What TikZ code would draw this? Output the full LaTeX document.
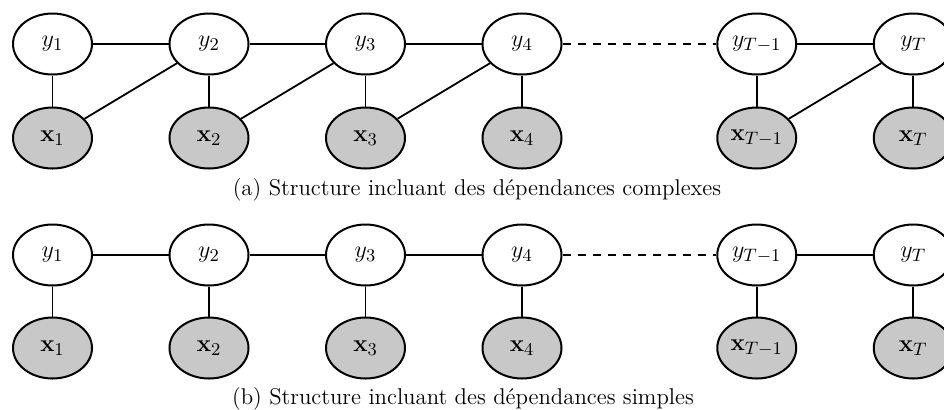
\documentclass[tikz,border=0pt]{standalone}
\usepackage{amsmath}
\usetikzlibrary{shapes.geometric}
\definecolor{obsGray}{RGB}{200,200,200}
\begin{document}
\begin{tikzpicture}[x=0.5pt,y=-0.5pt]
        \tikzstyle{hiddenNode}=[draw,ellipse,line width=1pt,minimum width=39.5pt,minimum height=30.5pt,inner sep=0pt,font=\fontsize{12.5}{15}\selectfont]
        \tikzstyle{observedNode}=[hiddenNode,fill=obsGray]
        \tikzstyle{link}=[line width=0.9pt]
        \tikzstyle{caption}=[font=\fontsize{11.4}{13}\selectfont]
    \useasboundingbox (0,0) rectangle (944,409);
    \clip (0,0) rectangle (944,409);

    % (a) complex dependencies
    \node[hiddenNode] (ya1) at (52.5, 44) {$y_1$};
    \node[hiddenNode] (ya2) at (209, 44) {$y_2$};
    \node[hiddenNode] (ya3) at (365.5, 44) {$y_3$};
    \node[hiddenNode] (ya4) at (522, 44) {$y_4$};
    \node[hiddenNode] (yaT1) at (756.75, 44) {$y_{T-1}$};
    \node[hiddenNode] (yaT) at (913.25, 44) {$y_T$};

    \node[observedNode] (xa1) at (52.5, 138) {$\mathbf{x}_1$};
    \node[observedNode] (xa2) at (209, 138) {$\mathbf{x}_2$};
    \node[observedNode] (xa3) at (365.5, 138) {$\mathbf{x}_3$};
    \node[observedNode] (xa4) at (522, 138) {$\mathbf{x}_4$};
    \node[observedNode] (xaT1) at (756.75, 138) {$\mathbf{x}_{T-1}$};
    \node[observedNode] (xaT) at (913.25, 138) {$\mathbf{x}_T$};

    \draw[link] (ya1) -- (ya2);
    \draw[link] (ya2) -- (ya3);
    \draw[link] (ya3) -- (ya4);
    \draw[link, dash pattern=on 4pt off 3.5pt] (ya4) -- (yaT1);
    \draw[link] (yaT1) -- (yaT);

    \draw[link] (ya1) -- (xa1);
    \draw[link] (ya2) -- (xa2);
    \draw[link] (ya3) -- (xa3);
    \draw[link] (ya4) -- (xa4);
    \draw[link] (yaT1) -- (xaT1);
    \draw[link] (yaT) -- (xaT);

    \draw[link] (xa1) -- (ya2);
    \draw[link] (xa2) -- (ya3);
    \draw[link] (xa3) -- (ya4);
    \draw[link] (xaT1) -- (yaT);

    \node[caption] (capa) at (477, 190) {(a) Structure incluant des d\'ependances complexes};

    % (b) simple dependencies
    \node[hiddenNode] (yb1) at (52.5, 255) {$y_1$};
    \node[hiddenNode] (yb2) at (209, 255) {$y_2$};
    \node[hiddenNode] (yb3) at (365.5, 255) {$y_3$};
    \node[hiddenNode] (yb4) at (522, 255) {$y_4$};
    \node[hiddenNode] (ybT1) at (756.75, 255) {$y_{T-1}$};
    \node[hiddenNode] (ybT) at (913.25, 255) {$y_T$};

    \node[observedNode] (xb1) at (52.5, 348) {$\mathbf{x}_1$};
    \node[observedNode] (xb2) at (209, 348) {$\mathbf{x}_2$};
    \node[observedNode] (xb3) at (365.5, 348) {$\mathbf{x}_3$};
    \node[observedNode] (xb4) at (522, 348) {$\mathbf{x}_4$};
    \node[observedNode] (xbT1) at (756.75, 348) {$\mathbf{x}_{T-1}$};
    \node[observedNode] (xbT) at (913.25, 348) {$\mathbf{x}_T$};

    \draw[link] (yb1) -- (yb2);
    \draw[link] (yb2) -- (yb3);
    \draw[link] (yb3) -- (yb4);
    \draw[link, dash pattern=on 4pt off 3.5pt] (yb4) -- (ybT1);
    \draw[link] (ybT1) -- (ybT);

    \draw[link] (yb1) -- (xb1);
    \draw[link] (yb2) -- (xb2);
    \draw[link] (yb3) -- (xb3);
    \draw[link] (yb4) -- (xb4);
    \draw[link] (ybT1) -- (xbT1);
    \draw[link] (ybT) -- (xbT);

    \node[caption] (capb) at (463, 399) {(b) Structure incluant des d\'ependances simples};
\end{tikzpicture}
\end{document}
